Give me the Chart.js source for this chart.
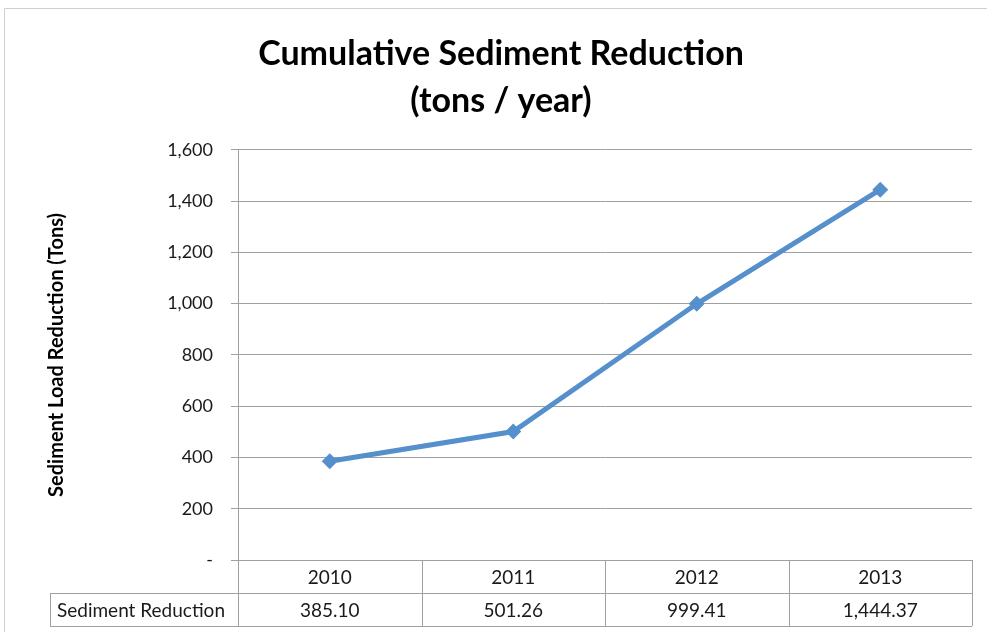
<!DOCTYPE html>
<html>
<head>
<meta charset="utf-8">
<script src="https://cdn.jsdelivr.net/npm/chart.js@4.4.1/dist/chart.umd.min.js"></script>
<style>
  html, body { margin: 0; padding: 0; background: #fff; }
  #wrap { width: 987px; height: 632px; position: relative; }
</style>
</head>
<body>
<div id="wrap"><canvas id="chart"></canvas></div>
<script>
// data
var years = ['2010', '2011', '2012', '2013'];
var sedimentReduction = [385.10, 501.26, 999.41, 1444.37];
var seriesName = 'Sediment Reduction';
var titleLines = ['Cumulative Sediment Reduction', '(tons / year)'];
var yAxisTitle = 'Sediment Load Reduction (Tons)';

var FONT = 'Lato';
var gridColor = '#a0a0a0';
var lineColor = '#5690cc';

function fmt2(v) {
    return v.toLocaleString('en-US', { minimumFractionDigits: 2, maximumFractionDigits: 2 });
}

// frame round the whole chart + the data table under the x axis
var tablePlugin = {
    id: 'dataTable',
    beforeDraw(chart) {
        var ctx = chart.ctx;
        ctx.save();
        ctx.strokeStyle = '#d0d0d0';
        ctx.lineWidth = 1;
        ctx.beginPath();
        ctx.moveTo(4.5, chart.height);
        ctx.lineTo(4.5, 8.5);
        ctx.lineTo(chart.width, 8.5);
        ctx.stroke();
        ctx.restore();
    },
    afterDraw(chart) {
        var ctx = chart.ctx;
        var x = chart.scales.x;
        var area = chart.chartArea;
        var rowH = 33;
        var top = area.bottom;
        var mid = top + rowH;
        var bot = mid + rowH;
        var colW = (x.right - x.left) / years.length;
        var labelLeft = 50;

        ctx.save();
        ctx.strokeStyle = gridColor;
        ctx.lineWidth = 1;
        ctx.beginPath();
        for (var i = 0; i <= years.length; i++) {
            var cx = Math.round(x.left + i * colW) + 0.5;
            ctx.moveTo(cx, top);
            ctx.lineTo(cx, bot);
        }
        ctx.moveTo(labelLeft + 0.5, mid);
        ctx.lineTo(labelLeft + 0.5, bot);
        ctx.moveTo(labelLeft, Math.round(mid) + 0.5);
        ctx.lineTo(x.right, Math.round(mid) + 0.5);
        ctx.moveTo(labelLeft, Math.round(bot) + 0.5);
        ctx.lineTo(x.right, Math.round(bot) + 0.5);
        ctx.stroke();

        ctx.fillStyle = '#1a1a1a';
        ctx.font = '19px ' + FONT;
        ctx.textBaseline = 'middle';
        ctx.textAlign = 'center';
        for (var j = 0; j < years.length; j++) {
            var px = x.getPixelForValue(j);
            ctx.fillText(years[j], px, top + rowH / 2 + 1);
            ctx.fillText(fmt2(sedimentReduction[j]), px, mid + rowH / 2 + 1);
        }
        ctx.textAlign = 'left';
        ctx.fillText(seriesName, labelLeft + 7, mid + rowH / 2 + 1);
        ctx.restore();
    }
};

new Chart(document.getElementById('chart'), {
    type: 'line',
    data: {
        labels: years,
        datasets: [{
            label: seriesName,
            data: sedimentReduction,
            borderColor: lineColor,
            backgroundColor: lineColor,
            borderWidth: 5,
            pointStyle: 'rectRot',
            pointRadius: 8,
            pointBorderWidth: 0,
            tension: 0
        }]
    },
    options: {
        responsive: true,
        maintainAspectRatio: false,
        animation: false,
        layout: { padding: { left: 30, right: 15, top: 0, bottom: 0 } },
        plugins: {
            legend: { display: false },
            tooltip: { enabled: false },
            title: {
                display: true,
                text: titleLines,
                color: '#000',
                font: { family: FONT, size: 34, weight: 'bold', lineHeight: 1.38 },
                padding: { top: 31, bottom: 25 }
            }
        },
        scales: {
            x: {
                offset: true,
                grid: { display: false },
                border: { display: false },
                ticks: { display: false },
                afterFit(scale) { scale.height = 72; }
            },
            y: {
                min: 0,
                max: 1600,
                ticks: {
                    stepSize: 200,
                    color: '#1a1a1a',
                    padding: 18,
                    font: { family: FONT, size: 18 },
                    callback: function (v) { return v === 0 ? '-' : v.toLocaleString('en-US'); }
                },
                grid: { color: gridColor, tickLength: 7, lineWidth: 1 },
                border: { color: gridColor },
                title: {
                    display: true,
                    text: yAxisTitle,
                    color: '#000',
                    font: { family: FONT, size: 20, weight: 'bold' },
                    padding: { top: 15, bottom: 0 }
                },
                afterFit(scale) { scale.width = 208; }
            }
        }
    },
    plugins: [tablePlugin]
});
</script>
</body>
</html>
